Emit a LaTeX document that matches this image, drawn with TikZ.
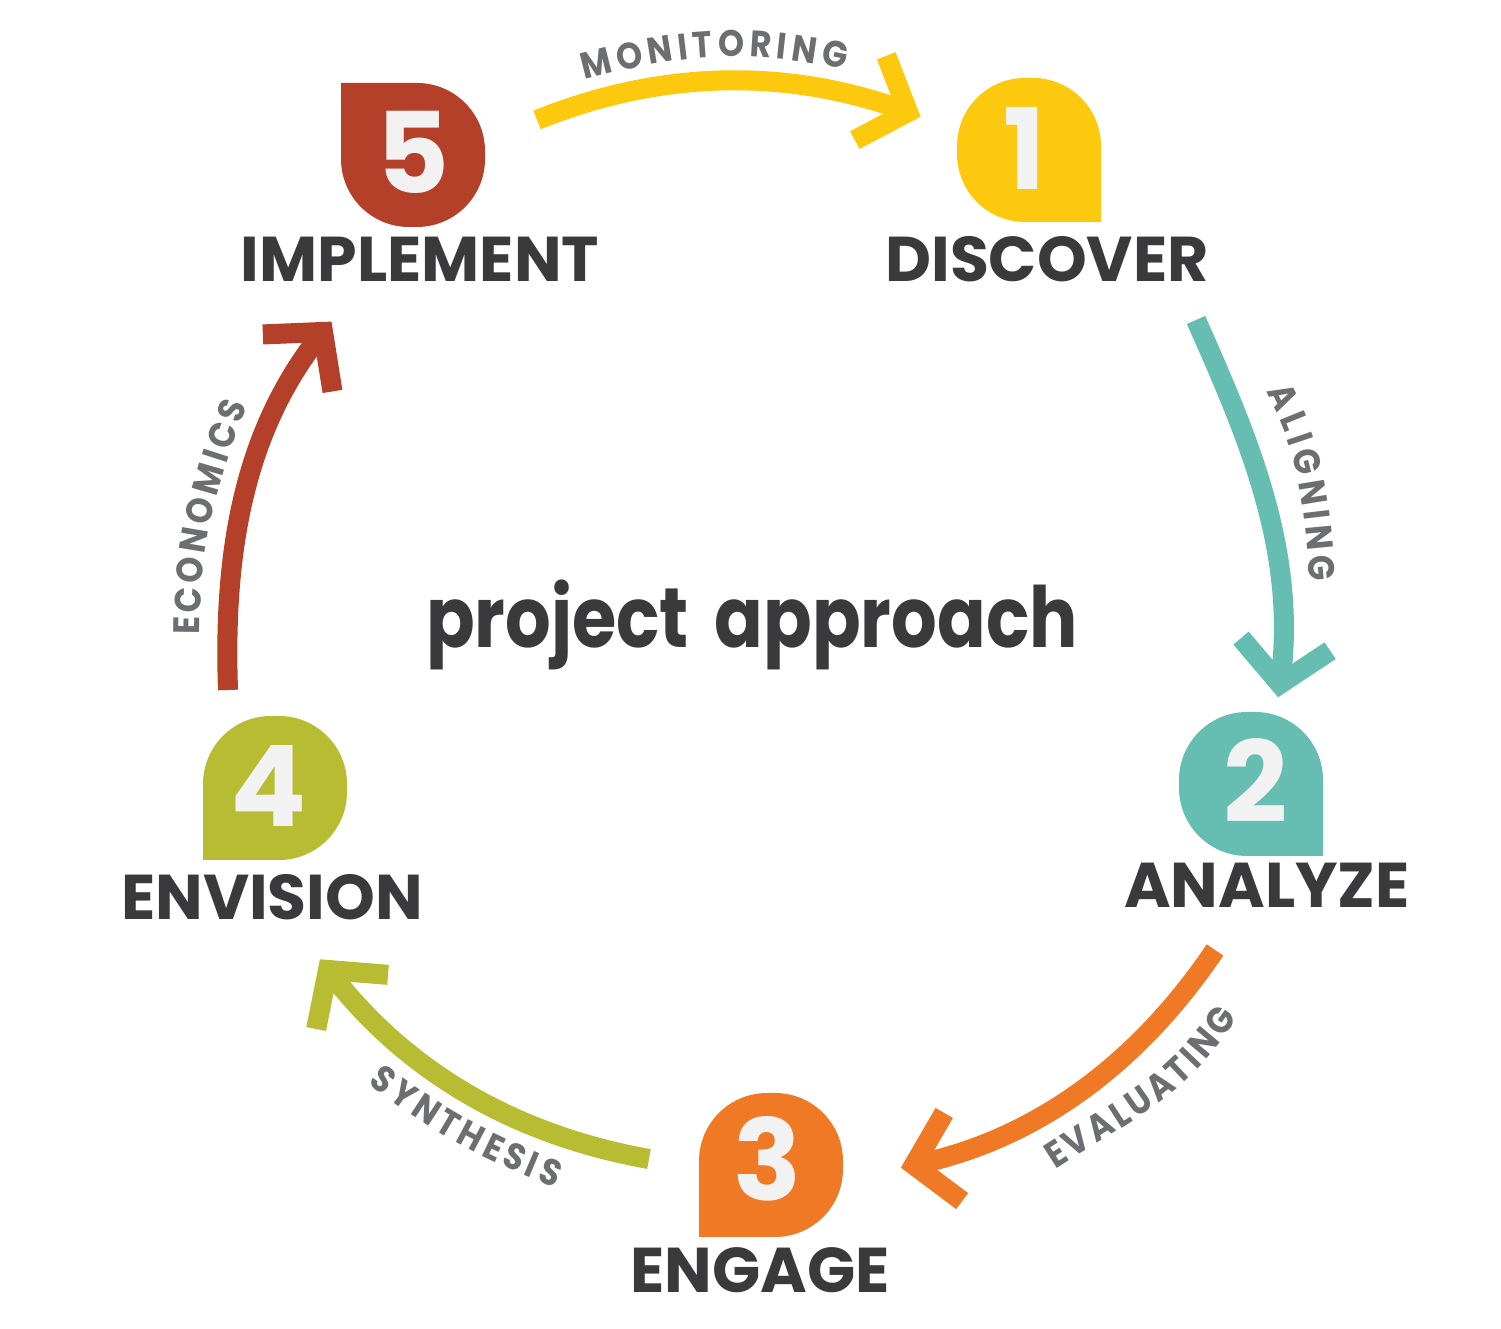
\documentclass[tikz,border=0pt]{standalone}
\usepackage{fontspec}
\newfontfamily\popfont{Poppins}
\newcommand\lblfont{\popfont\bfseries\addfontfeature{FakeStretch=0.9}\fontsize{10.5}{11}\selectfont}
\usetikzlibrary{decorations.text}
\definecolor{cyellow}{HTML}{FDC90E}
\definecolor{cteal}{HTML}{66BDB1}
\definecolor{corange}{HTML}{EF7925}
\definecolor{colive}{HTML}{B8BC33}
\definecolor{cred}{HTML}{B5402A}
\definecolor{cdark}{HTML}{3A3A3C}
\definecolor{cgray}{HTML}{6D6E71}
\definecolor{cdigit}{HTML}{F2F2F2}

\tikzset{
  badge/.pic={\path[pic actions] (-72,-72) -- (4,-72) arc[start angle=-90,end angle=0,radius=68]
     -- (72,4) arc[start angle=0,end angle=90,radius=68]
     -- (-4,72) arc[start angle=90,end angle=180,radius=68] -- cycle;},
  chevron/.pic={\path[pic actions, line width=5.7pt, line join=miter, line cap=butt]
     (-40,45) -- (0,0) -- (-40,-45);},
  arr/.style={line width=5.7pt, line cap=butt, looseness=0.9},
  digit/.style={text=cdigit, font=\popfont\bfseries\fontsize{32}{32}\selectfont, inner sep=0pt},
  stage/.style={text=cdark, font=\popfont\bfseries\fontsize{18}{18}\selectfont, inner sep=0pt, anchor=base},
  along/.style={decorate, decoration={text along path, text={|\lblfont|#1},
     text align=fit to path, text color=cgray}}
}

\begin{document}
\begin{tikzpicture}[x=0.01cm, y=0.01cm]
\useasboundingbox (0,0) rectangle (1501,1328);

% badges and numbers
\foreach \n/\col/\x/\y/\rot/\dx/\dy in {1/cyellow/1029/1178/90/-4/2, 2/cteal/1251/544/90/5/3,
   3/corange/771/163/0/-3/6, 4/colive/275/540/0/-6/2, 5/cred/413/1173/-90/0/3}{
  \pic[fill=\col, rotate=\rot] at (\x,\y) {badge};
  \node[digit] (n\n) at (\x+\dx,\y+\dy) {\n};
}

% stage names
\node[stage] (discover) at (1047,1046) {DISCOVER};
\node[stage] (analyze) at (1267,420) {ANALYZE};
\node[stage] (engage) at (760,36) {ENGAGE};
\node[stage] (envision) at (272,408) {ENVISION};
\node[stage] (implement) at (420,1046) {IMPLEMENT};

\node[text=cdark, font=\popfont\bfseries\addfontfeature{FakeStretch=0.85}\fontsize{24}{24}\selectfont,
   anchor=base, inner sep=0pt] (title) at (752,680) {project\hspace{3pt} approach};

% arrow ends
\coordinate (t1) at (537,1208); \coordinate (h1) at (908,1216);
\coordinate (t2) at (1196,1008); \coordinate (h2) at (1280,644);
\coordinate (t3) at (1215,378); \coordinate (h3) at (914,163);
\coordinate (t4) at (649,169); \coordinate (h4) at (328,358);
\coordinate (t5) at (228,638); \coordinate (h5) at (323,996);

\draw[arr, cyellow] (t1) to[out=22, in=159.5] (h1);
\pic[draw=cyellow, rotate=-20.5] at (h1) {chevron};
\draw[arr, cteal] (t2) to[out=-66, in=82] (h2);
\pic[draw=cteal, rotate=-98] at (h2) {chevron};
\draw[arr, corange] (t3) to[out=236, in=11.5] (h3);
\pic[draw=corange, rotate=191.5] at (h3) {chevron};
\draw[arr, colive] (t4) to[out=170, in=-53] (h4);
\pic[draw=colive, rotate=127] at (h4) {chevron};
\draw[arr, cred] (t5) to[out=92, in=230.7] (h5);
\pic[draw=cred, rotate=50.7] at (h5) {chevron};

% labels on the arrows
\path[along=MONITORING] (585,1248) to[out=15, in=168] (845,1258);
\path[along=ALIGNING] (1266,936) to[out=-62, in=95] (1310,746);
\path[along=EVALUATING] (1055,158) to[out=33, in=237] (1238,310);
\path[along=SYNTHESIS] (368,245) to[out=-38, in=158] (555,140);
\path[along=ECONOMICS] (200,693) to[out=90, in=250] (247,923);
\end{tikzpicture}
\end{document}
